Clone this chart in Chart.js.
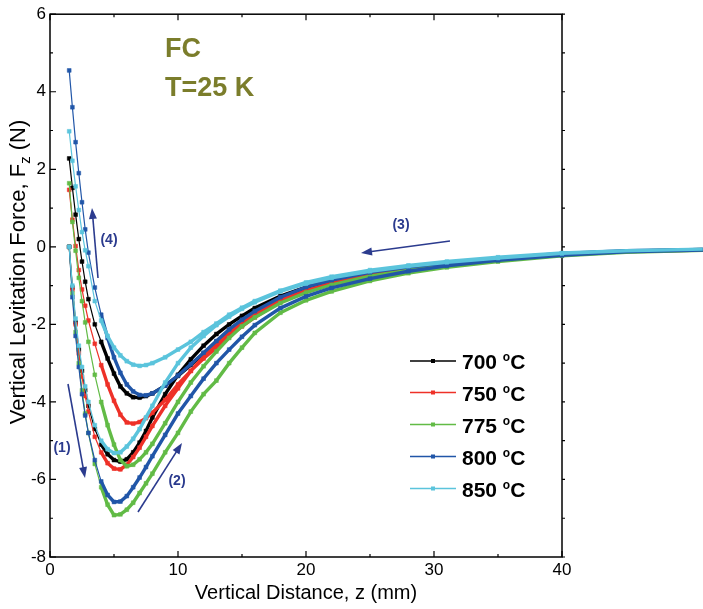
<!DOCTYPE html>
<html>
<head>
<meta charset="utf-8">
<script src="https://cdn.jsdelivr.net/npm/chart.js@4.4.1/dist/chart.umd.min.js"></script>
<style>
  html, body { margin: 0; padding: 0; background: #fff; }
  #chart { display: block; }
</style>
</head>
<body>
<canvas id="chart" width="703" height="609"></canvas>
<script>
// vertical distance z (mm), same grid for both branches
const zGrid = [1.5, 1.75, 2, 2.25, 2.5, 2.75, 3, 3.5, 4, 4.5, 5, 5.5, 6, 6.5, 7, 7.5, 8, 9, 10, 11,
  12, 13, 14, 15, 16, 18, 20, 22, 25, 28, 31, 35, 40, 45, 51];

const temps = ['700', '750', '775', '800', '850'];
const colors = ['#000000', '#ee3128', '#62bb46', '#2156a8', '#5bc4dc'];

// levitation force (N) while moving away, steps (1) and (2)
const out700 = [0, -1.05, -1.95, -2.65, -3.2, -3.7, -4.1, -4.7, -5.1, -5.35, -5.5, -5.54, -5.48, -5.3, -5.05,
  -4.75, -4.4, -3.8, -3.3, -2.9, -2.55, -2.25, -2.0, -1.78, -1.58, -1.27, -1.04, -0.87, -0.68, -0.54,
  -0.43, -0.31, -0.19, -0.11, -0.07];
const out750 = [0, -1.1, -2.0, -2.75, -3.35, -3.85, -4.25, -4.9, -5.3, -5.58, -5.72, -5.74, -5.62, -5.42, -5.18,
  -4.9, -4.62, -4.1, -3.65, -3.2, -2.83, -2.5, -2.2, -1.95, -1.73, -1.37, -1.12, -0.93, -0.72, -0.57,
  -0.45, -0.33, -0.2, -0.12, -0.08];
const out775 = [0, -1.2, -2.2, -3.0, -3.7, -4.3, -4.8, -5.6, -6.2, -6.65, -6.92, -6.9, -6.78, -6.6, -6.35,
  -6.1, -5.85, -5.3, -4.8, -4.25, -3.8, -3.45, -3.0, -2.6, -2.22, -1.7, -1.38, -1.15, -0.88, -0.68,
  -0.53, -0.38, -0.23, -0.14, -0.09];
const out800 = [0, -1.3, -2.3, -3.1, -3.8, -4.35, -4.8, -5.5, -6.05, -6.4, -6.58, -6.57, -6.43, -6.2, -5.95,
  -5.68, -5.4, -4.85, -4.3, -3.85, -3.4, -3.0, -2.65, -2.32, -2.02, -1.58, -1.28, -1.06, -0.82, -0.63,
  -0.49, -0.35, -0.22, -0.13, -0.08];
const out850 = [0, -1.0, -1.85, -2.55, -3.1, -3.6, -4.0, -4.6, -5.0, -5.22, -5.32, -5.3, -5.15, -4.95, -4.7,
  -4.4, -4.1, -3.5, -3.0, -2.6, -2.3, -2.02, -1.8, -1.6, -1.43, -1.15, -0.95, -0.8, -0.63, -0.5,
  -0.4, -0.29, -0.17, -0.1, -0.06];

// levitation force (N) while coming back, steps (3) and (4)
const ret700 = [2.28, 1.52, 0.83, 0.2, -0.38, -0.9, -1.35, -2.0, -2.45, -2.88, -3.27, -3.6, -3.78, -3.88, -3.89,
  -3.85, -3.78, -3.58, -3.33, -3.05, -2.75, -2.45, -2.15, -1.9, -1.68, -1.32, -1.05, -0.87, -0.67, -0.53,
  -0.42, -0.3, -0.18, -0.11, -0.07];
const ret750 = [1.47, 0.7, 0.02, -0.6, -1.1, -1.52, -1.9, -2.5, -3.05, -3.55, -3.97, -4.33, -4.53, -4.56, -4.52,
  -4.42, -4.28, -3.95, -3.55, -3.2, -2.88, -2.6, -2.3, -2.05, -1.82, -1.42, -1.13, -0.93, -0.72, -0.57,
  -0.45, -0.32, -0.2, -0.12, -0.08];
const ret775 = [1.64, 0.64, -0.1, -0.8, -1.4, -1.95, -2.45, -3.3, -4.0, -4.6, -5.1, -5.5, -5.66, -5.62, -5.48,
  -5.3, -5.08, -4.55, -4.0, -3.5, -3.08, -2.7, -2.35, -2.05, -1.82, -1.45, -1.18, -0.98, -0.76, -0.6,
  -0.47, -0.34, -0.21, -0.13, -0.08];
const ret800 = [4.55, 3.6, 2.7, 1.9, 1.15, 0.45, -0.15, -1.05, -1.75, -2.35, -2.85, -3.25, -3.55, -3.73, -3.82,
  -3.83, -3.78, -3.58, -3.32, -3.03, -2.73, -2.43, -2.13, -1.88, -1.66, -1.3, -1.04, -0.86, -0.66, -0.52,
  -0.41, -0.29, -0.17, -0.1, -0.07];
const ret850 = [2.98, 2.22, 1.56, 0.95, 0.38, -0.09, -0.5, -1.4, -1.9, -2.3, -2.6, -2.8, -2.95, -3.04, -3.07,
  -3.05, -3.0, -2.85, -2.65, -2.45, -2.2, -1.98, -1.75, -1.57, -1.4, -1.13, -0.92, -0.77, -0.6, -0.48,
  -0.38, -0.27, -0.16, -0.1, -0.06];

const outs = [out700, out750, out775, out800, out850];
const rets = [ret700, ret750, ret775, ret800, ret850];

// one closed loop per temperature: out to 51 mm, then back to 1.5 mm
function loop(outVals, retVals) {
  const pts = zGrid.map((z, i) => ({ x: z, y: outVals[i] }));
  for (let i = zGrid.length - 1; i >= 0; i--) {
    pts.push({ x: zGrid[i], y: retVals[i] });
  }
  return pts;
}

const datasets = temps.map((t, i) => ({
  label: t + ' °C',
  data: loop(outs[i], rets[i]),
  borderColor: colors[i],
  backgroundColor: colors[i],
  borderWidth: 1.2,
  pointStyle: 'rect',
  pointRadius: 2.7,
  pointBorderWidth: 0.5,
  tension: 0,
  clip: false,
  order: temps.length - 1 - i,
  // dense marker runs read as a thick band away from the steep part
  segment: {
    borderWidth: ctx => (ctx.p0.parsed.x >= 4 && ctx.p1.parsed.x >= 4) ? 3.4 : 1.2
  }
}));

const FONT = '"Liberation Sans", Arial, sans-serif';
const ARROW = '#2b3b8e';

function arrow(ctx, x0, y0, x1, y1) {
  const a = Math.atan2(y1 - y0, x1 - x0);
  const len = 11, half = 4;
  ctx.save();
  ctx.strokeStyle = ARROW;
  ctx.fillStyle = ARROW;
  ctx.lineWidth = 1.6;
  ctx.beginPath();
  ctx.moveTo(x0, y0);
  ctx.lineTo(x1 - len * 0.8 * Math.cos(a), y1 - len * 0.8 * Math.sin(a));
  ctx.stroke();
  ctx.beginPath();
  ctx.moveTo(x1, y1);
  ctx.lineTo(x1 - len * Math.cos(a) + half * Math.sin(a), y1 - len * Math.sin(a) - half * Math.cos(a));
  ctx.lineTo(x1 - len * Math.cos(a) - half * Math.sin(a), y1 - len * Math.sin(a) + half * Math.cos(a));
  ctx.closePath();
  ctx.fill();
  ctx.restore();
}

// box around the plot with inward ticks
const frame = {
  id: 'frame',
  beforeDatasetsDraw(chart) {
    const { ctx, chartArea: a, scales: { x, y } } = chart;
    ctx.save();
    ctx.strokeStyle = '#000';
    ctx.lineWidth = 1.5;
    ctx.strokeRect(a.left, a.top, a.right - a.left, a.bottom - a.top);
    ctx.lineWidth = 1.2;
    ctx.beginPath();
    for (let v = 0; v <= 40; v += 5) {
      const px = x.getPixelForValue(v);
      const l = v % 10 === 0 ? 6 : 3;
      ctx.moveTo(px, a.bottom); ctx.lineTo(px, a.bottom - l);
      ctx.moveTo(px, a.top); ctx.lineTo(px, a.top + l);
    }
    for (let v = -8; v <= 6; v += 1) {
      const py = y.getPixelForValue(v);
      const l = v % 2 === 0 ? 6 : 3;
      ctx.moveTo(a.left, py); ctx.lineTo(a.left + l, py);
      ctx.moveTo(a.right, py); ctx.lineTo(a.right + 3, py);
    }
    ctx.stroke();
    ctx.restore();
  },
  afterDraw(chart) {
    const { ctx } = chart;
    ctx.save();

    // sample and temperature
    ctx.fillStyle = '#7b7d2b';
    ctx.font = 'bold 27px ' + FONT;
    ctx.textBaseline = 'alphabetic';
    ctx.textAlign = 'left';
    ctx.fillText('FC', 165, 57);
    ctx.fillText('T=25 K', 165, 96);

    // direction of travel
    arrow(ctx, 68, 384, 85, 478);
    arrow(ctx, 138, 512, 182, 443);
    arrow(ctx, 450, 241, 361, 253);
    arrow(ctx, 98, 278, 92, 208);
    ctx.fillStyle = ARROW;
    ctx.font = 'bold 14px ' + FONT;
    ctx.textAlign = 'center';
    ctx.textBaseline = 'middle';
    ctx.fillText('(1)', 62, 448);
    ctx.fillText('(2)', 177, 481);
    ctx.fillText('(3)', 401, 225);
    ctx.fillText('(4)', 109, 240);

    // legend
    const rows = [361, 392.5, 424.5, 456.5, 488.5];
    temps.forEach((t, i) => {
      const yy = rows[i];
      ctx.strokeStyle = colors[i];
      ctx.fillStyle = colors[i];
      ctx.lineWidth = 1.5;
      ctx.beginPath();
      ctx.moveTo(410, yy); ctx.lineTo(456, yy);
      ctx.stroke();
      ctx.fillRect(431, yy - 2, 4, 4);
      ctx.fillStyle = '#000';
      ctx.textAlign = 'left';
      ctx.textBaseline = 'alphabetic';
      ctx.font = 'bold 21px ' + FONT;
      const base = yy + 8;
      ctx.fillText(t + ' ', 462, base);
      let xx = 462 + ctx.measureText(t + ' ').width;
      ctx.font = 'bold 12px ' + FONT;
      ctx.fillText('o', xx, base - 8);
      xx += ctx.measureText('o').width;
      ctx.font = 'bold 21px ' + FONT;
      ctx.fillText('C', xx, base);
    });

    // axis titles
    ctx.fillStyle = '#000';
    ctx.font = '20px ' + FONT;
    ctx.textAlign = 'center';
    ctx.textBaseline = 'alphabetic';
    ctx.fillText('Vertical Distance, z (mm)', 306, 599);

    ctx.translate(25, 272);
    ctx.rotate(-Math.PI / 2);
    ctx.textAlign = 'left';
    const p1 = 'Vertical Levitation Force, F', p2 = 'z', p3 = ' (N)';
    ctx.font = '22px ' + FONT;
    const w1 = ctx.measureText(p1).width, w3 = ctx.measureText(p3).width;
    ctx.font = '15px ' + FONT;
    const w2 = ctx.measureText(p2).width;
    let sx = -(w1 + w2 + w3) / 2;
    ctx.font = '22px ' + FONT;
    ctx.fillText(p1, sx, 0);
    sx += w1;
    ctx.font = '15px ' + FONT;
    ctx.fillText(p2, sx, 5);
    sx += w2;
    ctx.font = '22px ' + FONT;
    ctx.fillText(p3, sx, 0);
    ctx.restore();
  }
};

new Chart(document.getElementById('chart').getContext('2d'), {
  type: 'line',
  data: { datasets },
  options: {
    responsive: false,
    animation: false,
    layout: { padding: { top: 6, right: 141, left: 0, bottom: 0 } },
    plugins: { legend: { display: false }, tooltip: { enabled: false } },
    scales: {
      x: {
        type: 'linear',
        min: 0,
        max: 40,
        grid: { display: false, drawTicks: false },
        border: { display: false },
        ticks: { stepSize: 10, padding: 3, color: '#000', font: { family: FONT, size: 17 } },
        afterFit: s => { s.height = 52; }
      },
      y: {
        min: -8,
        max: 6,
        grid: { display: false, drawTicks: false },
        border: { display: false },
        ticks: { stepSize: 2, padding: 4, color: '#000', font: { family: FONT, size: 17 } },
        afterFit: s => { s.width = 50; }
      }
    }
  },
  plugins: [frame]
});
</script>
</body>
</html>
